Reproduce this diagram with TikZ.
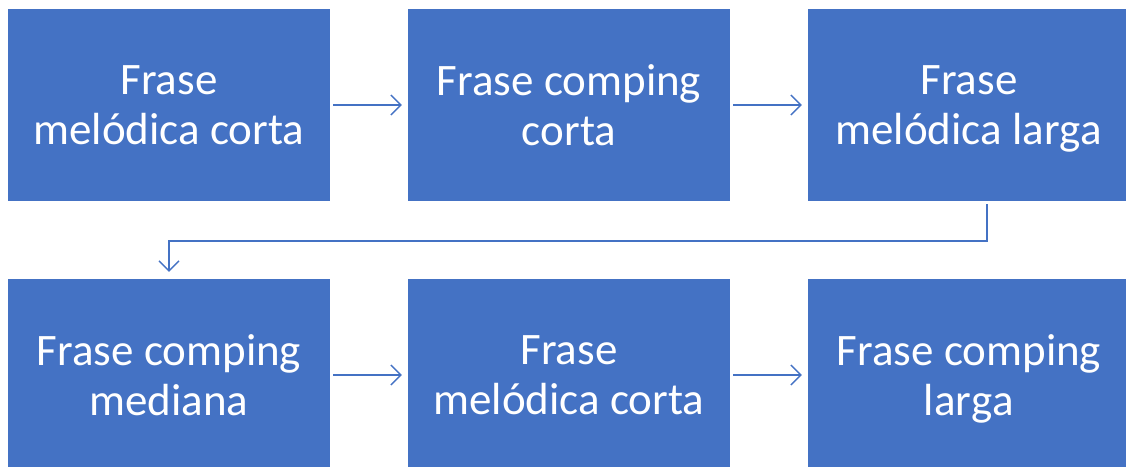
\documentclass[tikz,border=0pt]{standalone}
\usepackage{fontspec}
\setmainfont{Carlito}
\usetikzlibrary{arrows.meta}
\definecolor{boxblue}{HTML}{4472C4}
\tikzset{
  stepbox/.style={fill=boxblue, draw=none, minimum width=322pt, minimum height=192pt,
    inner sep=0pt, text=white, align=center, font=\fontsize{45}{50}\selectfont},
  conn/.style={draw=boxblue, line width=1.3pt, -{Straight Barb[length=10pt,width=20pt,line width=1.3pt]}}
}
\begin{document}
\begin{tikzpicture}[x=1pt,y=-1pt]
\useasboundingbox (0,0) rectangle (1126,466);
\clip (0,0) rectangle (1126,466);
\node[stepbox] (a) at (169,105) {Frase\\melódica corta};
\node[stepbox] (b) at (569,105) {Frase comping\\corta};
\node[stepbox] (c) at (969,105) {Frase\\melódica lar\smash{g}a};
\node[stepbox] (d) at (169,375) {Frase comping\\mediana};
\node[stepbox] (e) at (569,375) {Frase\\melódica corta};
\node[stepbox] (f) at (969,375) {Frase comping\\lar\smash{g}a};
\draw[conn] ([xshift=3pt]a.east) -- ([xshift=-6pt]b.west);
\draw[conn] ([xshift=3pt]b.east) -- ([xshift=-6pt]c.west);
\draw[conn] ([xshift=3pt]d.east) -- ([xshift=-6pt]e.west);
\draw[conn] ([xshift=3pt]e.east) -- ([xshift=-6pt]f.west);
\coordinate (bend) at (987,241);
\draw[conn] ([xshift=18pt,yshift=-3pt]c.south) -- (bend) -| ([yshift=7pt]d.north);
\end{tikzpicture}
\end{document}
